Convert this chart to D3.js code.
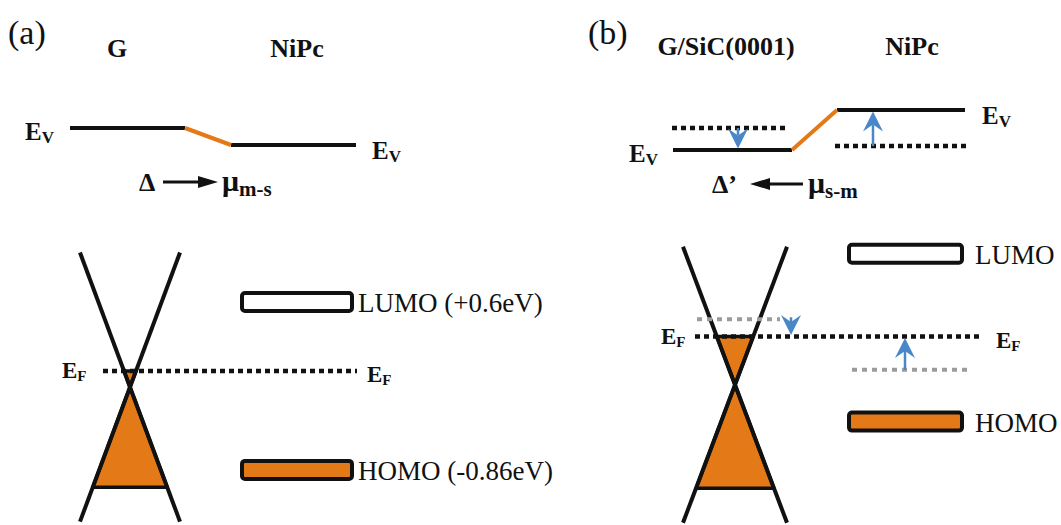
<!DOCTYPE html>
<html>
<head>
<meta charset="utf-8">
<script src="https://cdn.jsdelivr.net/npm/d3@7"></script>
<style>
  body { margin: 0; background: #fff; }
  svg { display: block; }
  text { font-family: "Liberation Serif", "Times New Roman", serif; fill: #111; }
</style>
</head>
<body>
<svg id="chart" width="1061" height="525"></svg>
<script>
// ---- Panel headings ----
const panelLabels = ["(a)", "(b)"];
const substrateNames = ["G", "G/SiC(0001)"];
const moleculeNames = ["NiPc", "NiPc"];

// ---- Vacuum level Ev (eV, relative to pristine graphene) ----
const substrateVac = [0, -0.22];
const substrateVacBefore = [null, 0];
const moleculeVac = [-0.17, 0.18];
const moleculeVacBefore = [null, -0.18];

// ---- Interface dipole / charge transfer ----
const dipoleLabels = ["Δ", "Δ’"];
const transferLabels = ["m-s", "s-m"];
const transferDirection = [1, -1];   // +1: arrow points to the right

// ---- Levels around the Fermi energy (eV) ----
const fermiLevel = [0, 0.3];
const fermiBeforeSubstrate = [null, 0.45];
const fermiBeforeMolecule = [null, 0.01];
const diracPoint = [-0.14, -0.12];
const coneHalfSpan = [1.17, 1.2];
const filledDepth = [0.87, 0.9];
const lumoLevel = [0.6, 1.02];
const homoLevel = [-0.86, -0.44];
const lumoLabels = ["LUMO (+0.6eV)", "LUMO"];
const homoLabels = ["HOMO (-0.86eV)", "HOMO"];

// ---- Colours ----
const ORANGE = "#e47a17";
const BLUE = "#4a87c8";
const GREY = "#9b9b9b";
const INK = "#111";

// ---- Horizontal layout of each panel (px) ----
const layout = [
  {
    label: 8, subHead: 117, molHead: 297, headY: 57,
    subVac: [70, 185], molVac: [231, 356],
    evLeft: 25, evRight: 372,
    vacArrowSub: null, vacArrowMol: null,
    delta: 139, arrow: [163, 218], mu: 222, muY: 191,
    coneX: 130, coneHalfWidth: 50,
    ef: [103, 357], efSubBefore: null, efMolBefore: null,
    efLeft: 62, efRight: 367,
    fermiArrowSub: null, fermiArrowMol: null,
    orb: [242, 352], orbLabel: 358
  },
  {
    label: 588, subHead: 726, molHead: 912, headY: 55,
    subVac: [673, 792], molVac: [837, 965],
    subVacBefore: [672, 788], molVacBefore: [835, 967],
    evLeft: 629, evRight: 982,
    vacArrowSub: 738, vacArrowMol: 873,
    delta: 712, arrow: [750, 803], mu: 808, muY: 193,
    coneX: 735, coneHalfWidth: 52,
    ef: [695, 983], efSubBefore: [697, 780], efMolBefore: [852, 967],
    efLeft: 661, efRight: 996,
    fermiArrowSub: 791, fermiArrowMol: 905,
    orb: [849, 962], orbLabel: 975
  }
];

// ---- Scales ----
const yVac = d3.scaleLinear().domain([-1, 1]).range([228, 28]);
const yE = d3.scaleLinear().domain([-1, 1]).range([486, 256]);

const svg = d3.select("#chart");

// blue notched arrow from (x, y0) with its tip at (x, y1)
function blueArrow(g, x, y0, y1) {
  const dir = y1 > y0 ? 1 : -1;
  const tip = y1 - dir * 1.5;
  const len = 20, half = 10, notch = 7;
  g.append("line")
    .attr("x1", x).attr("x2", x)
    .attr("y1", y0).attr("y2", tip - dir * len + dir * notch)
    .attr("stroke", BLUE).attr("stroke-width", 2.5);
  const p = d3.path();
  p.moveTo(x, tip);
  p.lineTo(x - half, tip - dir * len);
  p.lineTo(x, tip - dir * (len - notch));
  p.lineTo(x + half, tip - dir * len);
  p.closePath();
  g.append("path").attr("d", p.toString()).attr("fill", BLUE);
}

// symbol with a subscript
function subLabel(g, x, y, main, sub, size, subSize, shift) {
  const t = g.append("text").attr("x", x).attr("y", y)
    .attr("font-size", size).attr("font-weight", "bold");
  t.append("tspan").text(main);
  t.append("tspan").text(sub).attr("font-size", subSize).attr("dy", shift);
  return t;
}

function hLine(g, xs, y, opts) {
  return g.append("line")
    .attr("x1", xs[0]).attr("x2", xs[1])
    .attr("y1", y).attr("y2", y)
    .attr("stroke", opts.color || INK)
    .attr("stroke-width", opts.width || 4)
    .attr("stroke-dasharray", opts.dash || null);
}

panelLabels.forEach((lab, i) => {
  const L = layout[i];
  const g = svg.append("g");

  // headings
  g.append("text").attr("x", L.label).attr("y", 44)
    .attr("font-size", 34).text(lab);
  g.append("text").attr("x", L.subHead).attr("y", L.headY)
    .attr("text-anchor", "middle").attr("font-size", 26).attr("font-weight", "bold")
    .text(substrateNames[i]);
  g.append("text").attr("x", L.molHead).attr("y", L.headY)
    .attr("text-anchor", "middle").attr("font-size", 26).attr("font-weight", "bold")
    .text(moleculeNames[i]);

  // ---- vacuum levels ----
  const ySub = yVac(substrateVac[i]);
  const yMol = yVac(moleculeVac[i]);
  if (substrateVacBefore[i] !== null) {
    hLine(g, L.subVacBefore, yVac(substrateVacBefore[i]), { dash: "5 4", width: 4.5 });
    hLine(g, L.molVacBefore, yVac(moleculeVacBefore[i]), { dash: "5 4", width: 4.5 });
  }
  hLine(g, L.subVac, ySub, {});
  hLine(g, L.molVac, yMol, {});
  g.append("line")
    .attr("x1", L.subVac[1]).attr("y1", ySub)
    .attr("x2", L.molVac[0]).attr("y2", yMol)
    .attr("stroke", ORANGE).attr("stroke-width", 4);
  if (L.vacArrowSub !== null) {
    blueArrow(g, L.vacArrowSub, yVac(substrateVacBefore[i]), ySub);
    blueArrow(g, L.vacArrowMol, yVac(moleculeVacBefore[i]), yMol);
  }
  subLabel(g, L.evLeft, ySub + 12, "E", "V", 25, 17, 3);
  subLabel(g, L.evRight, yMol + 14, "E", "V", 25, 17, 3);

  // ---- dipole / transfer annotation ----
  g.append("text").attr("x", L.delta).attr("y", L.muY)
    .attr("font-size", 26).attr("font-weight", "bold").text(dipoleLabels[i]);
  const dir = transferDirection[i];
  const ay = L.muY - 9;
  const from = dir > 0 ? L.arrow[0] : L.arrow[1];
  const to = dir > 0 ? L.arrow[1] : L.arrow[0];
  g.append("line").attr("x1", from).attr("x2", to - dir * 16)
    .attr("y1", ay).attr("y2", ay).attr("stroke", INK).attr("stroke-width", 3);
  g.append("path")
    .attr("d", `M${to},${ay} L${to - dir * 20},${ay - 6} L${to - dir * 20},${ay + 6} Z`)
    .attr("fill", INK);
  subLabel(g, L.mu, L.muY, "μ", transferLabels[i], 30, 21, 5);

  // ---- Dirac cone ----
  const xc = L.coneX;
  const yD = yE(diracPoint[i]);
  const slope = L.coneHalfWidth / (yE(diracPoint[i]) - yE(diracPoint[i] + coneHalfSpan[i]));
  const yEF = yE(fermiLevel[i]);
  const yBottomFill = yE(diracPoint[i] - filledDepth[i]);
  const halfAt = y => Math.abs(y - yD) * slope;

  // filled states: lower cone up to the Dirac point, and upper cone up to E_F
  const lowerTri = [[xc, yD], [xc - halfAt(yBottomFill), yBottomFill], [xc + halfAt(yBottomFill), yBottomFill]];
  g.append("path").attr("d", d3.line()(lowerTri) + "Z")
    .attr("fill", ORANGE).attr("stroke", INK).attr("stroke-width", 3.5).attr("stroke-linejoin", "round");
  if (yEF < yD) {
    const upperTri = [[xc, yD], [xc - halfAt(yEF), yEF], [xc + halfAt(yEF), yEF]];
    g.append("path").attr("d", d3.line()(upperTri) + "Z")
      .attr("fill", ORANGE).attr("stroke", INK).attr("stroke-width", 3.5).attr("stroke-linejoin", "round");
  }
  const yTop = yE(diracPoint[i] + coneHalfSpan[i]);
  const yBot = yE(diracPoint[i] - coneHalfSpan[i]);
  [[-1, 1], [1, -1]].forEach(([a, b]) => {
    g.append("line")
      .attr("x1", xc + a * halfAt(yTop)).attr("y1", yTop)
      .attr("x2", xc + b * halfAt(yBot)).attr("y2", yBot)
      .attr("stroke", INK).attr("stroke-width", 4);
  });

  // ---- Fermi levels ----
  if (fermiBeforeSubstrate[i] !== null) {
    hLine(g, L.efSubBefore, yE(fermiBeforeSubstrate[i]), { dash: "5 5", width: 4, color: GREY });
    hLine(g, L.efMolBefore, yE(fermiBeforeMolecule[i]), { dash: "5 5", width: 4, color: GREY });
  }
  hLine(g, L.ef, yEF, { dash: "5 4", width: 4.5 });
  if (L.fermiArrowSub !== null) {
    blueArrow(g, L.fermiArrowSub, yE(fermiBeforeSubstrate[i]) - 2, yEF);
    blueArrow(g, L.fermiArrowMol, yE(fermiBeforeMolecule[i]), yEF);
  }
  subLabel(g, L.efLeft, yEF + 7, "E", "F", 23, 15, 3);
  subLabel(g, L.efRight, yEF + 11, "E", "F", 23, 15, 3);

  // ---- molecular orbitals ----
  const orbH = 18;
  [[lumoLevel[i], "#fff", lumoLabels[i]], [homoLevel[i], ORANGE, homoLabels[i]]].forEach(([lv, fill, txt]) => {
    const yc = yE(lv);
    g.append("rect")
      .attr("x", L.orb[0]).attr("y", yc - orbH / 2)
      .attr("width", L.orb[1] - L.orb[0]).attr("height", orbH)
      .attr("rx", 3).attr("fill", fill).attr("stroke", INK).attr("stroke-width", 4);
    g.append("text").attr("x", L.orbLabel).attr("y", yc + 10)
      .attr("font-size", 27).text(txt);
  });
});
</script>
</body>
</html>
